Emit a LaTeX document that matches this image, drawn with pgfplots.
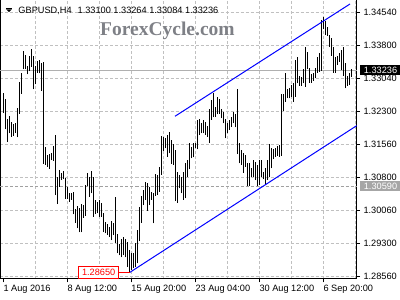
\documentclass[border=0pt]{standalone}
\usepackage{fontspec}
\setmainfont{Liberation Sans}
\newfontfamily\wmfont{Liberation Serif}
\usepackage{pgfplots}
\usepackage{pgfplotstable}
\pgfplotsset{compat=1.18}
\definecolor{gridc}{RGB}{192,192,192}
\definecolor{lvl}{RGB}{176,176,176}
\definecolor{lvld}{RGB}{160,160,160}
\definecolor{wm}{RGB}{126,128,134}
\definecolor{mtblue}{RGB}{0,0,255}
\definecolor{mtred}{RGB}{255,0,0}
\definecolor{boxgray}{RGB}{166,166,166}
\newcommand{\tf}{\fontsize{9.2}{10}\selectfont}
\tikzset{tlab/.style={inner sep=0pt, font=\tf}}

\pgfplotstableread{
i low high
0 1.32271 1.32711
1 1.31895 1.32582
2 1.31613 1.32128
3 1.31804 1.32196
4 1.31727 1.32054
5 1.31743 1.32015
6 1.31818 1.32031
7 1.31713 1.32371
8 1.32242 1.32961
9 1.32696 1.33165
10 1.33256 1.33671
11 1.33256 1.33587
12 1.33142 1.33331
13 1.33217 1.33558
14 1.33315 1.33710
15 1.32802 1.33558
16 1.32916 1.33331
17 1.33179 1.33444
18 1.33165 1.33467
19 1.32770 1.33406
20 1.31108 1.33415
21 1.31085 1.31493
22 1.31046 1.31319
23 1.30994 1.31334
24 1.31198 1.31364
25 1.31176 1.31516
26 1.30404 1.31765
27 1.30200 1.30819
28 1.30592 1.30971
29 1.30744 1.30896
30 1.30760 1.30955
31 1.30320 1.30797
32 1.30320 1.30592
33 1.30252 1.30456
34 1.30291 1.30456
35 1.29966 1.30472
36 1.29776 1.30087
37 1.29649 1.30155
38 1.29558 1.30103
39 1.29558 1.30193
40 1.29883 1.30177
41 1.29928 1.30631
42 1.30608 1.30896
43 1.30366 1.30819
44 1.30443 1.30955
45 1.29912 1.30819
46 1.29973 1.30291
47 1.29989 1.30252
48 1.29912 1.30291
49 1.29912 1.30230
50 1.29558 1.30003
51 1.29535 1.29799
52 1.29497 1.29746
53 1.29458 1.29672
54 1.29383 1.29814
55 1.29497 1.29776
56 1.29322 1.30366
57 1.29082 1.29520
58 1.29036 1.29293
59 1.28991 1.29399
60 1.29043 1.29458
61 1.28991 1.29406
62 1.28778 1.29345
63 1.28650 1.29157
64 1.28703 1.29088
65 1.28741 1.29082
66 1.28778 1.29322
67 1.28855 1.29610
68 1.29354 1.30125
69 1.29776 1.30382
70 1.30177 1.30518
71 1.30291 1.30706
72 1.30048 1.30670
73 1.30177 1.30592
74 1.30291 1.30472
75 1.29762 1.30443
76 1.30382 1.30874
77 1.30404 1.30858
78 1.30479 1.31046
79 1.30858 1.31743
80 1.31409 1.31727
81 1.31464 1.31691
82 1.31273 1.31765
83 1.31350 1.31840
84 1.31108 1.31652
85 1.31085 1.31561
86 1.30268 1.31425
87 1.30230 1.30933
88 1.30556 1.30858
89 1.30443 1.30819
90 1.30291 1.30933
91 1.30329 1.31123
92 1.30819 1.31198
93 1.30987 1.31577
94 1.31237 1.31500
95 1.31260 1.31577
96 1.31464 1.31577
97 1.31441 1.32106
98 1.31765 1.32122
99 1.31804 1.32031
100 1.31804 1.32106
101 1.31765 1.32067
102 1.31727 1.31970
103 1.31591 1.32348
104 1.32106 1.32559
105 1.32167 1.32711
106 1.32181 1.32407
107 1.32235 1.32634
108 1.32242 1.32575
109 1.32144 1.32348
110 1.32031 1.32294
111 1.31691 1.32122
112 1.31804 1.32031
113 1.31879 1.32106
114 1.31954 1.32181
115 1.32031 1.32294
116 1.31940 1.32235
117 1.31334 1.32802
118 1.31123 1.31577
119 1.31085 1.31425
120 1.30910 1.31364
121 1.31046 1.31312
122 1.30608 1.31123
123 1.30608 1.31123
124 1.30819 1.31010
125 1.30819 1.31198
126 1.30744 1.31160
127 1.30608 1.31085
128 1.30631 1.31198
129 1.30819 1.31198
130 1.30760 1.30933
131 1.30631 1.31010
132 1.30744 1.31198
133 1.30806 1.31561
134 1.31010 1.31464
135 1.31214 1.31441
136 1.31273 1.31464
137 1.31289 1.31516
138 1.31273 1.31539
139 1.31289 1.32696
140 1.32317 1.32696
141 1.32521 1.33165
142 1.32598 1.32802
143 1.32598 1.32825
144 1.32634 1.32900
145 1.32521 1.32938
146 1.32634 1.33467
147 1.32938 1.33528
148 1.32877 1.33104
149 1.32877 1.33074
150 1.32938 1.33256
151 1.32861 1.33755
152 1.33256 1.33655
153 1.32952 1.33279
154 1.32952 1.33149
155 1.32997 1.33165
156 1.33052 1.33279
157 1.33179 1.33542
158 1.33201 1.33632
159 1.33224 1.34374
160 1.34163 1.34449
161 1.34034 1.34358
162 1.34011 1.34222
163 1.33769 1.34034
164 1.33558 1.33959
165 1.33179 1.33769
166 1.33179 1.33528
167 1.33353 1.33558
168 1.33428 1.33632
169 1.33240 1.33694
170 1.33104 1.33769
171 1.32825 1.33392
172 1.32877 1.33104
173 1.32900 1.33179
174 1.33084 1.33264
}\bars

\begin{document}
\begin{tikzpicture}
\begin{axis}[
  name=ax,
  scale only axis, width=356.2pt, height=279.5pt,
  xmin=-1.4, xmax=176.7, ymin=1.28499, ymax=1.34839,
  clip=false,
  axis line style={black, line width=1pt},
  tick style={black, line width=1pt},
  tick align=outside,
  major tick length=3.5pt,
  minor tick length=0pt,
  xtick pos=left, ytick pos=right,
  xtick={0,32,64,96,128,160},
  xticklabels={},
  minor xtick={16,32,...,176},
  xminorgrids,
  ytick={1.2856,1.29308,1.30055,1.30803,1.3155,1.32298,1.33045,1.33793,1.3454},
  yticklabels={},
  ymajorgrids,
  major grid style={gridc, dash pattern=on 3pt off 2pt, line width=1pt},
  minor grid style={gridc, dash pattern=on 3pt off 2pt, line width=1pt},
]
% level lines
\addplot[lvl, line width=1pt] coordinates {(-1.4,1.33236) (176.7,1.33236)};
\addplot[lvld, line width=1pt, dash pattern=on 3pt off 2pt] coordinates {(-1.4,1.3059) (176.7,1.3059)};
% bars (high-low)
\addplot[no markers, draw=none,
  error bars/.cd, y dir=plus, y explicit, error mark=none,
  error bar style={draw=black, line width=1pt, solid}]
  table[x=i, y=low, y error plus expr={\thisrow{high}-\thisrow{low}}] {\bars};
% channel
\addplot[mtblue, line width=1pt] coordinates {(85.85,1.32190) (173.35,1.34737)};
\addplot[mtblue, line width=1pt] coordinates {(63.3,1.28650) (176.7,1.31977)};
% low marker
\addplot[mtred, line width=1pt] coordinates {(58,1.2865) (63.3,1.2865)};
\node[draw=mtred, line width=1pt, fill=white, text=mtred, anchor=east, inner xsep=3.5pt, inner ysep=0pt, minimum height=12pt, font=\tf] at (axis cs:58,1.2865) {1.28650};
% x tick labels
\node[tlab, anchor=north west] at ([yshift=-6pt]axis cs:0,1.28499) {1 Aug 2016};
\node[tlab, anchor=north west] at ([yshift=-6pt]axis cs:32,1.28499) {8 Aug 12:00};
\node[tlab, anchor=north west] at ([yshift=-6pt]axis cs:64,1.28499) {15 Aug 20:00};
\node[tlab, anchor=north west] at ([yshift=-6pt]axis cs:96,1.28499) {23 Aug 04:00};
\node[tlab, anchor=north west] at ([yshift=-6pt]axis cs:128,1.28499) {30 Aug 12:00};
\node[tlab, anchor=north west] at ([yshift=-6pt]axis cs:160,1.28499) {6 Sep 20:00};
% y tick labels
\node[tlab, anchor=west] at ([xshift=6.6pt]axis cs:176.7,1.2856) {1.28560};
\node[tlab, anchor=west] at ([xshift=6.6pt]axis cs:176.7,1.29308) {1.29300};
\node[tlab, anchor=west] at ([xshift=6.6pt]axis cs:176.7,1.30055) {1.30060};
\node[tlab, anchor=west] at ([xshift=6.6pt]axis cs:176.7,1.30803) {1.30800};
\node[tlab, anchor=west] at ([xshift=6.6pt]axis cs:176.7,1.3155) {1.31560};
\node[tlab, anchor=west] at ([xshift=6.6pt]axis cs:176.7,1.32298) {1.32300};
\node[tlab, anchor=west] at ([xshift=6.6pt]axis cs:176.7,1.33045) {1.33040};
\node[tlab, anchor=west] at ([xshift=6.6pt]axis cs:176.7,1.33793) {1.33800};
\node[tlab, anchor=west] at ([xshift=6.6pt]axis cs:176.7,1.3454) {1.34540};
% right side price boxes
\node[fill=black, text=white, anchor=west, inner xsep=4pt, inner ysep=0pt, minimum height=9.5pt, minimum width=42pt, font=\tf] at ([xshift=2.6pt]axis cs:176.7,1.33236) {1.33236};
\node[fill=boxgray, text=white, anchor=west, inner xsep=4pt, inner ysep=0pt, minimum height=10.5pt, minimum width=42pt, font=\tf] at ([xshift=2.6pt]axis cs:176.7,1.30610) {1.30590};
\end{axis}
% title (relative to the axis box's top left corner)
\fill[black] ([shift={(5.5pt,-9.8pt)}]ax.north west) -- ++(6pt,0) -- ++(-3pt,-2.7pt) -- cycle;
\draw[black, line width=0.8pt] ([shift={(5.5pt,-8.9pt)}]ax.north west) -- ++(6pt,0);
\node[anchor=base west, inner sep=0pt, font=\tf] at ([shift={(17.8pt,-13.8pt)}]ax.north west) {GBPUSD,H4\hspace{6pt}1.33100 1.33264 1.33084 1.33236};
% watermark
\node[anchor=base west, inner sep=0pt, text=wm, font=\wmfont\bfseries\fontsize{19.5}{20}\selectfont] at ([shift={(99.5pt,-36.5pt)}]ax.north west) {ForexCycle.com};
\pgfresetboundingbox
\path[use as bounding box] ([shift={(-0.5pt,-21pt)}]ax.south west) rectangle ([shift={(43.3pt,-0.5pt)}]ax.north east);
\end{tikzpicture}
\end{document}
